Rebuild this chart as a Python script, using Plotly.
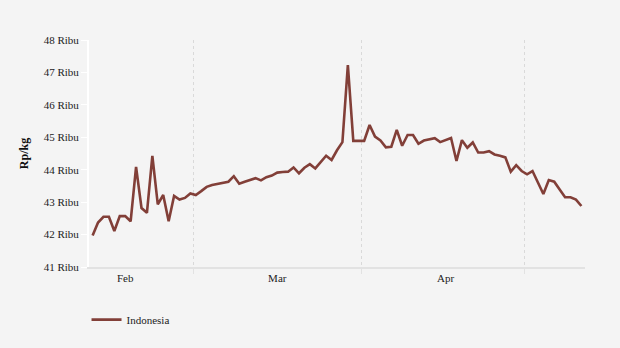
import pandas as pd
import plotly.graph_objects as go

# ---- data ----
start_date = "2024-02-11 12:00"
prices_ribu = [
    41.97, 42.37, 42.55, 42.55, 42.11, 42.57, 42.57, 42.41, 44.09, 42.82,
    42.67, 44.43, 42.93, 43.22, 42.41, 43.19, 43.08, 43.13, 43.27, 43.22,
    43.34, 43.47, 43.53, 43.57, 43.61, 43.63, 43.80, 43.57, 43.63, 43.69,
    43.74, 43.67, 43.77, 43.82, 43.91, 43.93, 43.94, 44.07, 43.89, 44.06,
    44.17, 44.04, 44.25, 44.43, 44.30, 44.60, 44.85, 47.23, 44.89, 44.89,
    44.89, 45.38, 45.02, 44.90, 44.69, 44.71, 45.23, 44.74, 45.07, 45.07,
    44.80, 44.90, 44.93, 44.97, 44.85, 44.91, 44.98, 44.27, 44.91, 44.68,
    44.84, 44.53, 44.53, 44.57, 44.47, 44.43, 44.38, 43.94, 44.14, 43.96,
    43.86, 43.96, 43.58, 43.25, 43.68, 43.63, 43.39, 43.15, 43.15, 43.08,
    42.88,
]
series_name = "Indonesia"
month_label_dates = ["2024-02-17 12:00", "2024-03-16 12:00", "2024-04-16 12:00"]
month_labels = ["Feb", "Mar", "Apr"]
y_tick_values = [41, 42, 43, 44, 45, 46, 47, 48]
y_tick_labels = [f"{v} Ribu" for v in y_tick_values]

dates = pd.date_range(start_date, periods=len(prices_ribu), freq="D")

BG = "#f4f4f4"
FONT = "Liberation Serif"

fig = go.Figure()
fig.add_trace(go.Scatter(
    x=dates, y=prices_ribu, mode="lines", name=series_name,
    line=dict(color="#823f38", width=2.6),
))

fig.update_layout(
    width=620, height=348,
    paper_bgcolor=BG, plot_bgcolor=BG,
    margin=dict(l=89, r=35, t=40, b=81),
    font=dict(family=FONT, size=11, color="#222222"),
    showlegend=True,
    legend=dict(
        orientation="h", x=-0.005, xanchor="left", y=-0.232, yanchor="middle",
        font=dict(family=FONT, size=11, color="#222222"),
        bgcolor="rgba(0,0,0,0)",
    ),
    xaxis=dict(
        type="date",
        range=["2024-02-10 20:00", "2024-05-12 04:00"],
        tickmode="array", tickvals=month_label_dates, ticktext=month_labels,
        ticks="", showgrid=False,
        showline=True, linecolor="#e2e2e2", linewidth=2,
        zeroline=False,
        minor=dict(
            dtick="M1", tick0="2024-01-01",
            showgrid=True, griddash="3px,3px", gridcolor="#d9d9d9", gridwidth=1,
            ticks="outside", ticklen=5, tickcolor="#e2e2e2", tickwidth=1,
        ),
        tickfont=dict(family=FONT, size=11, color="#222222"),
    ),
    yaxis=dict(
        range=[41, 48],
        tickmode="array", tickvals=y_tick_values, ticktext=y_tick_labels,
        showgrid=False, zeroline=False,
        showline=True, linecolor="#ffffff", linewidth=2,
        ticks="outside", ticklen=6, tickcolor="#ffffff", tickwidth=1,
        tickfont=dict(family=FONT, size=11, color="#222222"),
        title=dict(text="<b>Rp/kg</b>", font=dict(family=FONT, size=12, color="#111111"), standoff=12),
    ),
)

fig.write_html("out.html")
